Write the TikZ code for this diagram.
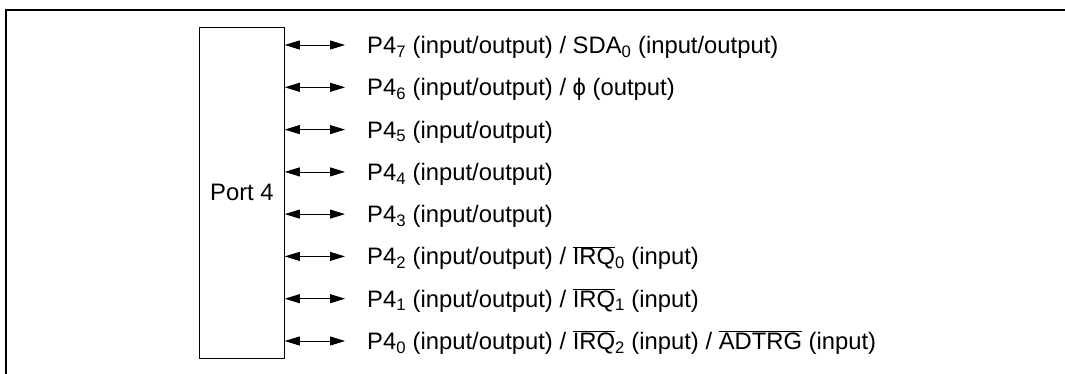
\documentclass[tikz,border=0pt]{standalone}
\usepackage{fontspec}
\setmainfont{Liberation Sans}
\usepackage{tikz}
\usetikzlibrary{arrows.meta}
\newcommand{\pinsub}[1]{\textsubscript{#1}}
\newcommand{\barsig}[1]{$\overline{\hbox{#1}}$}
\tikzset{
  pinlbl/.style={anchor=west, inner sep=0pt, text height=17pt, text depth=0pt},
  pinarrow/.style={{Triangle[length=15pt,width=9pt]}-{Triangle[length=15pt,width=9pt]}, line width=0.8pt}
}

\begin{document}
\begin{tikzpicture}[x=1pt, y=-1pt, font=\fontsize{23.8}{28}\selectfont]
  \useasboundingbox (0,0) rectangle (1065,373);
  \draw[line width=2pt] (6,390) -- (6,10) -- (1080,10);
  \node[draw, line width=0.8pt, anchor=north west, minimum width=85pt, minimum height=331pt, inner sep=0pt] (port) at (199,27) {Port 4};
  % pin labels
  \node[pinlbl] (p7) at (367,45) {P4\pinsub{7} (input/output) / SDA\pinsub{0} (input/output)};
  \node[pinlbl] (p6) at (367,87.3) {P4\pinsub{6} (input/output) / ϕ (output)};
  \node[pinlbl] (p5) at (367,129.6) {P4\pinsub{5} (input/output)};
  \node[pinlbl] (p4) at (367,171.9) {P4\pinsub{4} (input/output)};
  \node[pinlbl] (p3) at (367,214.1) {P4\pinsub{3} (input/output)};
  \node[pinlbl] (p2) at (367,256.4) {P4\pinsub{2} (input/output) / \barsig{IRQ}\pinsub{0} (input)};
  \node[pinlbl] (p1) at (367,298.7) {P4\pinsub{1} (input/output) / \barsig{IRQ}\pinsub{1} (input)};
  \node[pinlbl] (p0) at (367,341) {P4\pinsub{0} (input/output) / \barsig{IRQ}\pinsub{2} (input) / \barsig{ADTRG} (input)};
  % arrows
  \foreach \p in {p7,p6,p5,p4,p3,p2,p1,p0}
    \draw[pinarrow] (port.east |- \p.west) -- ([xshift=-22pt]\p.west);
\end{tikzpicture}
\end{document}
